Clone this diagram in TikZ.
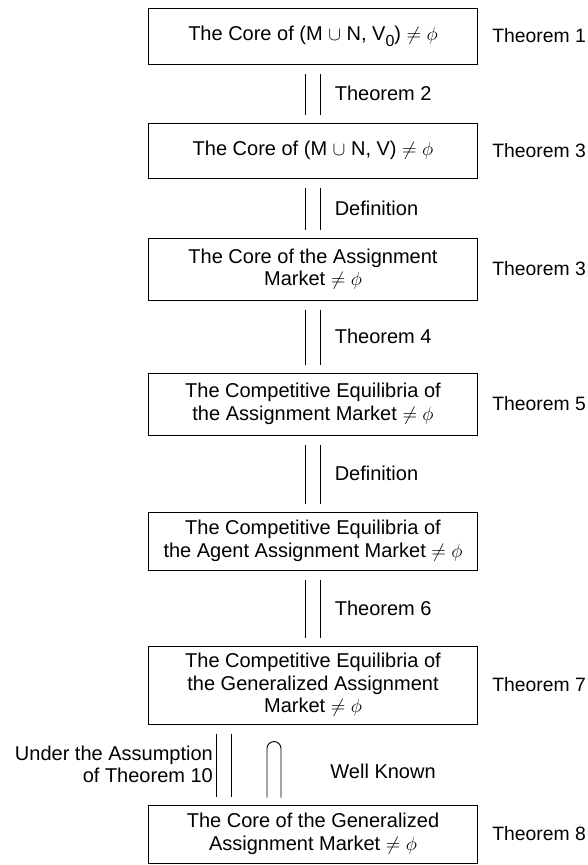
\documentclass[tikz,border=0pt]{standalone}
\usepackage{fontspec}
\setmainfont{Liberation Sans}
\usepackage{tikz}
\usetikzlibrary{positioning,calc}

\newcommand{\lowzero}{\raisebox{-0.55ex}{\fontsize{12pt}{12pt}\selectfont 0}}

\begin{document}
\begin{tikzpicture}[x=0.75pt,y=-0.75pt,line width=0.7pt,
  every node/.style={font={\fontsize{15pt}{16.8pt}\selectfont}},
  thmbox/.style={draw,minimum width=246.75pt,align=center,inner sep=2pt},
  lbl/.style={inner sep=0pt},
  thmno/.style={lbl,font={\fontsize{14.5pt}{16pt}\selectfont}},
  eqv/.style={double,double distance=10.4pt,shorten <=7.5pt,shorten >=6pt}]
  \useasboundingbox (0,0) rectangle (588,865);
  % statements
  \node[thmbox,minimum height=42pt]   (b1) at (313,36)    {The Core of (M $\cup$ N, V\lowzero) $\neq\phi$};
  \node[thmbox,minimum height=41.25pt](b2) at (313,150.5) {The Core of (M $\cup$ N, V) $\neq\phi$};
  \node[thmbox,minimum height=46.5pt] (b3) at (313,269)   {The Core of the Assignment\\Market $\neq\phi$};
  \node[thmbox,minimum height=46.5pt] (b4) at (313,404)   {The Competitive Equilibria of\\the Assignment Market $\neq\phi$};
  \node[thmbox,minimum height=43.5pt] (b5) at (313,541)   {The Competitive Equilibria of\\the Agent Assignment Market $\neq\phi$};
  \node[thmbox,minimum height=58.5pt] (b6) at (313,685)   {The Competitive Equilibria of\\the Generalized Assignment\\Market $\neq\phi$};
  \node[thmbox,minimum height=43.5pt] (b7) at (313,834)   {The Core of the Generalized\\Assignment Market $\neq\phi$};
  % theorem numbers on the right
  \node[thmno,right=10.5pt of b1] (t1) {Theorem 1};
  \node[thmno,right=10.5pt of b2] (t2) {Theorem 3};
  \node[thmno,right=10.5pt of b3] (t3) {Theorem 3};
  \node[thmno,right=10.5pt of b4] (t4) {Theorem 5};
  \node[thmno,right=10.5pt of b6] (t6) {Theorem 7};
  \node[thmno,right=10.5pt of b7] (t7) {Theorem 8};
  % equivalences
  \draw[eqv] (b1) -- (b2) node[lbl,midway,right=16pt] {Theorem 2};
  \draw[eqv] (b2) -- (b3) node[lbl,midway,right=16pt] {Definition};
  \draw[eqv] (b3) -- (b4) node[lbl,midway,right=16pt] {Theorem 4};
  \draw[eqv] (b4) -- (b5) node[lbl,midway,right=16pt] {Definition};
  \draw[eqv] (b5) -- (b6) node[lbl,midway,right=16pt] {Theorem 6};
  \draw[eqv] ([xshift=-66.75pt]b6.south) -- ([xshift=-66.75pt]b7.north)
    node[lbl,midway,left=8pt,align=right] {Under the Assumption\\of Theorem 10};
  % implication
  \draw ([xshift=-34.5pt,yshift=5.25pt]b7.north) coordinate (wkfoot)
    -- ++(0,-49) arc[start angle=180,end angle=0,radius=5.25pt] -- ++(0,49);
  \node[lbl,anchor=west] (wk) at (330,771) {Well Known};
\end{tikzpicture}
\end{document}
